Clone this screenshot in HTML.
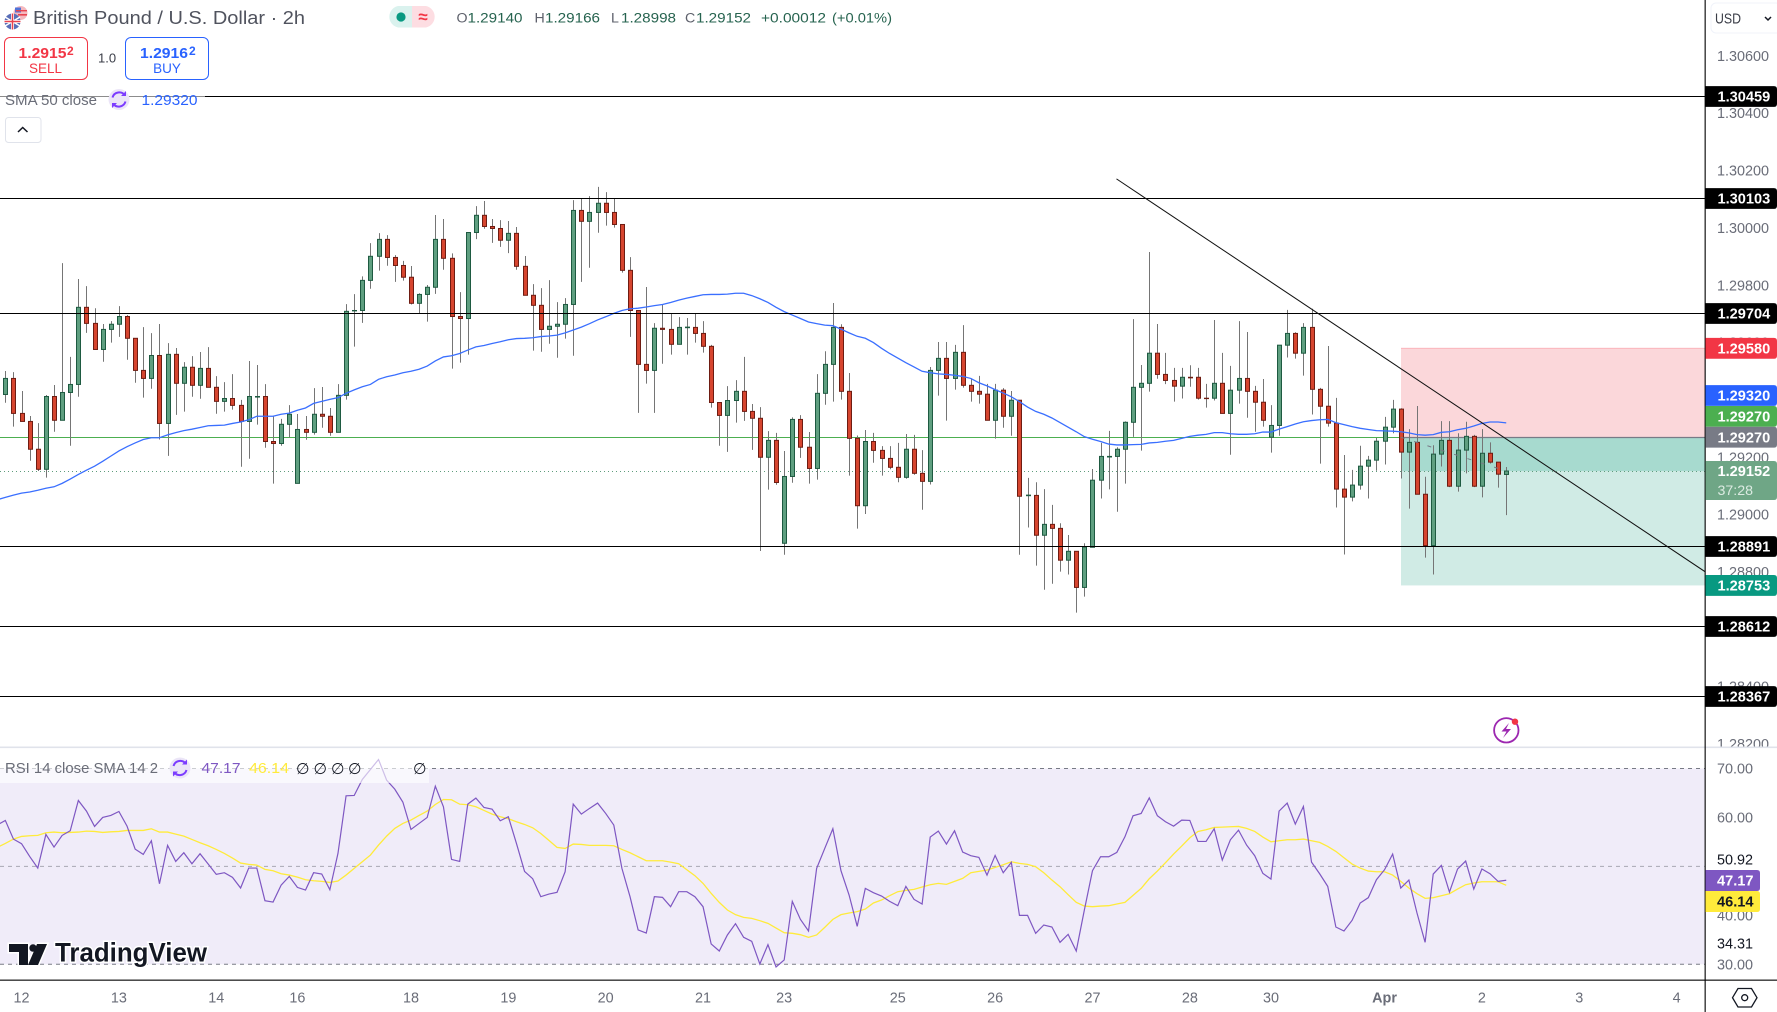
<!DOCTYPE html>
<html lang="en">
<head>
<meta charset="utf-8">
<title>British Pound / U.S. Dollar 2h chart</title>
<style>
html,body{margin:0;padding:0;background:#fff;width:1777px;height:1012px;overflow:hidden}
svg{display:block;font-family:"Liberation Sans",Arial,sans-serif}
.px{font-size:14.4px;fill:#6a6d78}
.tag{font-size:14.6px;font-weight:bold}
.tm{font-size:14.4px;fill:#6a6d78}
.ohlc{font-size:14.2px;fill:#26634f}
.ohl{font-size:14.2px;fill:#5d606b}
</style>
</head>
<body>
<svg id="chart" xmlns="http://www.w3.org/2000/svg" width="1777" height="1012" viewBox="0 0 1777 1012">
  <defs>
    <clipPath id="pricePaneClip"><rect x="0" y="0" width="1705" height="747"/></clipPath>
    <clipPath id="priceAxisClip"><rect x="1705" y="36" width="72" height="711"/></clipPath>
  </defs>
  <rect x="0" y="0" width="1777" height="1012" fill="#ffffff"/>
  <g id="priceAxis" clip-path="url(#priceAxisClip)"></g>
  <g id="pricePane" clip-path="url(#pricePaneClip)"></g>
  <rect x="0" y="746.5" width="1777" height="1.6" fill="#e0e3eb"/>
  <g id="rsiPane"></g>
  <g id="timeAxis"></g>
  <rect x="1704.6" y="0" width="1.1" height="1012" fill="#000"/>
  <rect x="0" y="979.6" width="1777" height="1.1" fill="#000"/>
  <g id="axisTags"></g>
  <g id="rsiAxis"></g>

  <!-- header -->
  <g>
    <circle cx="20.5" cy="13" r="7" fill="#f4b9bf"/>
    <rect x="15" y="7.5" width="6" height="5" fill="#4f73d9"/>
    <rect x="18" y="14" width="9" height="1.6" fill="#e8434f"/>
    <rect x="16" y="10" width="11" height="1.4" fill="#e8434f"/>
    <circle cx="12.5" cy="21.5" r="8" fill="#5a6fb8"/>
    <path d="M5 17 L20 26 M5 26 L20 17" stroke="#fff" stroke-width="1.6"/>
    <path d="M12.5 13.5 V29.5 M4.5 21.5 H20.5" stroke="#fff" stroke-width="3"/>
    <path d="M12.5 13.5 V29.5 M4.5 21.5 H20.5" stroke="#e8434f" stroke-width="1.5"/>
  </g>
  <text x="33" y="24" font-size="18.5" fill="#50535e" textLength="272" lengthAdjust="spacingAndGlyphs">British Pound / U.S. Dollar · 2h</text>
  <g>
    <path d="M412 6 H398 a11 11 0 0 0 0 21.5 H412 Z" fill="#daf2ee"/>
    <path d="M412 6 H426 a11 11 0 0 1 0 21.5 H412 Z" fill="#fddde2"/>
    <circle cx="401" cy="17" r="4.6" fill="#089981"/>
    <text x="423" y="22.5" font-size="17" font-weight="bold" fill="#f23645" text-anchor="middle">≈</text>
  </g>
  <g>
    <text class="ohl" x="456.5" y="22.7">O</text><text class="ohlc" x="467.5" y="22.7" textLength="55" lengthAdjust="spacingAndGlyphs">1.29140</text>
    <text class="ohl" x="534.5" y="22.7">H</text><text class="ohlc" x="545" y="22.7" textLength="55" lengthAdjust="spacingAndGlyphs">1.29166</text>
    <text class="ohl" x="611" y="22.7">L</text><text class="ohlc" x="621" y="22.7" textLength="55" lengthAdjust="spacingAndGlyphs">1.28998</text>
    <text class="ohl" x="685" y="22.7">C</text><text class="ohlc" x="696" y="22.7" textLength="55" lengthAdjust="spacingAndGlyphs">1.29152</text>
    <text class="ohlc" x="761" y="22.7" textLength="65" lengthAdjust="spacingAndGlyphs">+0.00012</text>
    <text class="ohlc" x="832" y="22.7" textLength="60" lengthAdjust="spacingAndGlyphs">(+0.01%)</text>
  </g>
  <g>
    <rect x="4.5" y="37.5" width="83" height="42" rx="5.5" fill="#fff" stroke="#f23645"/>
    <text x="18.5" y="58" font-size="15" font-weight="bold" fill="#f23645" textLength="48" lengthAdjust="spacingAndGlyphs">1.2915</text>
    <text x="67" y="55" font-size="12" font-weight="bold" fill="#f23645">2</text>
    <text x="45.5" y="73" font-size="13.5" fill="#f23645" text-anchor="middle">SELL</text>
  </g>
  <text x="98" y="62.5" font-size="13" fill="#3a3d47">1.0</text>
  <g>
    <rect x="125.5" y="37.5" width="83" height="42" rx="5.5" fill="#fff" stroke="#2962ff"/>
    <text x="140" y="58" font-size="15" font-weight="bold" fill="#2962ff" textLength="48" lengthAdjust="spacingAndGlyphs">1.2916</text>
    <text x="189" y="55" font-size="12" font-weight="bold" fill="#2962ff">2</text>
    <text x="167" y="73" font-size="13.5" fill="#2962ff" text-anchor="middle">BUY</text>
  </g>
  <g>
    <rect x="0" y="88" width="205" height="24" fill="#fff" fill-opacity="0.55"/>
    <text x="5" y="105" font-size="14.6" fill="#6a6d78" textLength="92" lengthAdjust="spacingAndGlyphs">SMA 50 close</text>
    <circle cx="119" cy="99.5" r="10.5" fill="#ebe5f7"/>
    <path d="M112.5 97.5 a7 7 0 0 1 12.5 -2 M125.5 101.5 a7 7 0 0 1 -12.5 2" fill="none" stroke="#7c3cff" stroke-width="2"/>
    <path d="M126 91 v5 h-5 Z M112 108 v-5 h5 Z" fill="#7c3cff"/>
    <text x="141.5" y="105" font-size="14.6" fill="#2962ff" textLength="56" lengthAdjust="spacingAndGlyphs">1.29320</text>
  </g>
  <g>
    <rect x="5.5" y="117.5" width="35.5" height="25" rx="3" fill="#fff" stroke="#e0e3eb"/>
    <path d="M18 132 L22.7 127.5 L27.5 132" fill="none" stroke="#131722" stroke-width="1.5"/>
  </g>
  <g>
    <rect x="1711" y="3" width="70" height="30" rx="5" fill="#fff" stroke="#f0f3fa"/>
    <text x="1715" y="23.5" font-size="14.4" fill="#3a3d47" textLength="26" lengthAdjust="spacingAndGlyphs">USD</text>
    <path d="M1765 17 L1768 20 L1771 17" fill="none" stroke="#131722" stroke-width="1.5"/>
  </g>
  <g>
    <circle cx="1506.3" cy="730.3" r="12.2" fill="#fff" stroke="#9c27b0" stroke-width="1.8"/>
    <path d="M1509 723 L1501.5 731.5 H1506.5 L1503 738 L1511 729 H1506 Z" fill="#9c27b0"/>
    <circle cx="1515" cy="721.7" r="3.2" fill="#f23645"/>
  </g>
  <g>
    <path d="M1738 988.5 H1751.5 L1757 997.7 L1751.5 1007 H1738 L1732.5 997.7 Z" fill="none" stroke="#131722" stroke-width="1.3"/>
    <circle cx="1744.7" cy="997.7" r="3" fill="none" stroke="#131722" stroke-width="1.3"/>
  </g>
  <g>
    <path d="M9 944 H28 V965 H19 V952 H9 Z M37 944 H47 L38 965 H28 Z" fill="#131722" stroke="#fff" stroke-width="3" paint-order="stroke"/>
    <circle cx="33" cy="948" r="3.7" fill="#131722"/>
    <text x="55" y="961.5" font-size="26.5" font-weight="bold" fill="#131722" stroke="#fff" stroke-width="3" paint-order="stroke" textLength="152" lengthAdjust="spacingAndGlyphs">TradingView</text>
  </g>
</svg>

<script>
// ---------- data ----------
const priceOpen = [1.29419,1.29475,1.29353,1.29325,1.29228,1.29158,1.29412,1.29329,1.29426,1.29454,1.29723,1.29667,1.29576,1.29646,1.29664,1.29691,1.29615,1.29503,1.29475,1.29555,1.29318,1.29559,1.29458,1.29514,1.29451,1.29510,1.29444,1.29395,1.29405,1.29381,1.29325,1.29410,1.29412,1.29255,1.29248,1.29315,1.29109,1.29297,1.29287,1.29350,1.29343,1.29287,1.29416,1.29711,1.29712,1.29817,1.29901,1.29960,1.29897,1.29869,1.29828,1.29737,1.29768,1.29793,1.29960,1.29894,1.29691,1.29684,1.29984,1.30044,1.30005,1.29998,1.29957,1.29981,1.29866,1.29765,1.29730,1.29646,1.29657,1.29664,1.29733,1.30061,1.30023,1.30054,1.30086,1.30054,1.30012,1.29852,1.29712,1.29524,1.29503,1.29650,1.29646,1.29594,1.29652,1.29653,1.29632,1.29587,1.29391,1.29346,1.29398,1.29430,1.29360,1.29336,1.29200,1.29259,1.28900,1.29133,1.29332,1.29235,1.29161,1.29423,1.29524,1.29653,1.29430,1.29266,1.29031,1.29255,1.29224,1.29196,1.29165,1.29130,1.29228,1.29144,1.29116,1.29503,1.29545,1.29475,1.29566,1.29451,1.29430,1.29420,1.29329,1.29434,1.29343,1.29399,1.29066,1.29067,1.28928,1.28966,1.28952,1.28841,1.28872,1.28746,1.28886,1.29120,1.29201,1.29203,1.29228,1.29322,1.29444,1.29458,1.29563,1.29489,1.29468,1.29448,1.29479,1.29479,1.29406,1.29406,1.29458,1.29353,1.29434,1.29475,1.29430,1.29392,1.29270,1.29311,1.29591,1.29632,1.29563,1.29653,1.29437,1.29378,1.29319,1.29089,1.29061,1.29103,1.29169,1.29190,1.29256,1.29305,1.29368,1.29218,1.29252,1.29071,1.28892,1.29211,1.29259,1.29099,1.29225,1.29273,1.29099,1.29214,1.29183,1.29140];
const priceHigh = [1.29501,1.29497,1.29431,1.29344,1.29319,1.29417,1.29452,1.29877,1.29550,1.29822,1.29797,1.29720,1.29665,1.29675,1.29727,1.29696,1.29615,1.29654,1.29633,1.29665,1.29598,1.29581,1.29532,1.29553,1.29567,1.29584,1.29483,1.29462,1.29490,1.29400,1.29536,1.29522,1.29455,1.29344,1.29334,1.29382,1.29351,1.29344,1.29441,1.29445,1.29372,1.29455,1.29734,1.29769,1.29831,1.29947,1.29982,1.29975,1.29905,1.29885,1.29867,1.29772,1.29801,1.30045,1.30031,1.29911,1.29776,1.29984,1.30076,1.30094,1.30031,1.30027,1.30024,1.30003,1.29902,1.29804,1.29790,1.29818,1.29741,1.29755,1.30097,1.30104,1.30111,1.30143,1.30125,1.30104,1.30012,1.29898,1.29712,1.29794,1.29668,1.29734,1.29701,1.29689,1.29686,1.29701,1.29675,1.29592,1.29391,1.29448,1.29469,1.29550,1.29386,1.29375,1.29291,1.29285,1.29222,1.29339,1.29347,1.29288,1.29490,1.29570,1.29738,1.29664,1.29494,1.29276,1.29295,1.29285,1.29239,1.29239,1.29250,1.29281,1.29278,1.29225,1.29515,1.29602,1.29602,1.29592,1.29661,1.29475,1.29484,1.29456,1.29456,1.29441,1.29431,1.29399,1.29128,1.29113,1.29089,1.29034,1.28970,1.28929,1.28872,1.28900,1.29159,1.29250,1.29292,1.29235,1.29325,1.29682,1.29522,1.29916,1.29665,1.29564,1.29512,1.29512,1.29521,1.29512,1.29456,1.29679,1.29564,1.29519,1.29675,1.29637,1.29449,1.29473,1.29382,1.29591,1.29714,1.29636,1.29668,1.29718,1.29442,1.29588,1.29407,1.29208,1.29156,1.29240,1.29205,1.29267,1.29341,1.29400,1.29371,1.29298,1.29379,1.29132,1.29242,1.29326,1.29326,1.29284,1.29324,1.29278,1.29298,1.29252,1.29183,1.29166];
const priceLow = [1.29390,1.29307,1.29325,1.29188,1.29152,1.29129,1.29289,1.29329,1.29240,1.29411,1.29634,1.29576,1.29533,1.29600,1.29620,1.29540,1.29460,1.29408,1.29439,1.29262,1.29205,1.29348,1.29359,1.29411,1.29404,1.29444,1.29352,1.29359,1.29366,1.29167,1.29195,1.29314,1.29233,1.29108,1.29240,1.29269,1.29109,1.29261,1.29279,1.29303,1.29275,1.29287,1.29401,1.29586,1.29669,1.29788,1.29851,1.29868,1.29812,1.29816,1.29733,1.29702,1.29673,1.29770,1.29854,1.29509,1.29530,1.29558,1.29961,1.29997,1.29948,1.29934,1.29912,1.29854,1.29765,1.29572,1.29568,1.29596,1.29547,1.29614,1.29554,1.29812,1.29861,1.29983,1.30008,1.30001,1.29844,1.29620,1.29355,1.29457,1.29355,1.29526,1.29558,1.29594,1.29558,1.29600,1.29565,1.29373,1.29240,1.29219,1.29321,1.29327,1.29226,1.28873,1.29087,1.29104,1.28860,1.29111,1.29198,1.29108,1.29122,1.29383,1.29394,1.29401,1.29136,1.28951,1.29002,1.29181,1.29136,1.29158,1.29113,1.29125,1.29139,1.29017,1.29105,1.29415,1.29328,1.29436,1.29443,1.29394,1.29387,1.29329,1.29265,1.29303,1.29275,1.28860,1.28955,1.28822,1.28738,1.28759,1.28801,1.28791,1.28658,1.28714,1.28886,1.29056,1.29088,1.29010,1.29108,1.29271,1.29223,1.29429,1.29474,1.29455,1.29394,1.29405,1.29446,1.29401,1.29373,1.29398,1.29353,1.29209,1.29387,1.29338,1.29289,1.29307,1.29216,1.29275,1.29548,1.29544,1.29485,1.29349,1.29178,1.29307,1.29025,1.28861,1.29046,1.29087,1.29056,1.29153,1.29175,1.29284,1.29126,1.29021,1.29071,1.28850,1.28791,1.29168,1.29096,1.29080,1.29144,1.29096,1.29060,1.29178,1.29094,1.28998];
const priceClose = [1.29475,1.29353,1.29325,1.29228,1.29158,1.29412,1.29329,1.29426,1.29454,1.29723,1.29667,1.29576,1.29646,1.29664,1.29691,1.29615,1.29503,1.29475,1.29555,1.29318,1.29559,1.29458,1.29514,1.29451,1.29510,1.29444,1.29395,1.29405,1.29381,1.29325,1.29412,1.29412,1.29255,1.29248,1.29315,1.29350,1.29297,1.29287,1.29350,1.29343,1.29287,1.29416,1.29709,1.29712,1.29817,1.29901,1.29960,1.29897,1.29869,1.29828,1.29737,1.29768,1.29793,1.29960,1.29894,1.29691,1.29684,1.29984,1.30044,1.30005,1.29998,1.29957,1.29981,1.29866,1.29765,1.29730,1.29646,1.29657,1.29664,1.29733,1.30061,1.30023,1.30054,1.30086,1.30054,1.30012,1.29852,1.29712,1.29524,1.29503,1.29650,1.29646,1.29594,1.29653,1.29654,1.29632,1.29587,1.29391,1.29346,1.29398,1.29430,1.29360,1.29336,1.29200,1.29259,1.29112,1.29133,1.29332,1.29235,1.29161,1.29423,1.29524,1.29653,1.29430,1.29266,1.29031,1.29255,1.29224,1.29196,1.29165,1.29130,1.29228,1.29144,1.29116,1.29503,1.29545,1.29475,1.29566,1.29451,1.29430,1.29420,1.29329,1.29434,1.29343,1.29399,1.29064,1.29068,1.28928,1.28966,1.28952,1.28841,1.28872,1.28746,1.28887,1.29120,1.29203,1.29203,1.29228,1.29322,1.29444,1.29458,1.29563,1.29489,1.29468,1.29448,1.29479,1.29477,1.29406,1.29405,1.29458,1.29353,1.29434,1.29475,1.29430,1.29392,1.29329,1.29311,1.29591,1.29632,1.29563,1.29653,1.29437,1.29378,1.29319,1.29089,1.29061,1.29103,1.29169,1.29190,1.29256,1.29305,1.29368,1.29218,1.29252,1.29071,1.28892,1.29211,1.29259,1.29099,1.29225,1.29273,1.29099,1.29214,1.29183,1.29141,1.29152];
const sma50 = [1.29060,1.29068,1.29075,1.29079,1.29085,1.29092,1.29097,1.29109,1.29124,1.29140,1.29155,1.29169,1.29186,1.29204,1.29222,1.29237,1.29250,1.29262,1.29268,1.29268,1.29278,1.29286,1.29293,1.29298,1.29304,1.29310,1.29311,1.29312,1.29318,1.29323,1.29331,1.29343,1.29343,1.29343,1.29350,1.29354,1.29364,1.29372,1.29388,1.29395,1.29402,1.29408,1.29423,1.29435,1.29446,1.29454,1.29472,1.29481,1.29487,1.29495,1.29500,1.29507,1.29518,1.29536,1.29550,1.29554,1.29562,1.29574,1.29585,1.29590,1.29597,1.29603,1.29610,1.29614,1.29615,1.29617,1.29621,1.29623,1.29626,1.29634,1.29644,1.29654,1.29666,1.29679,1.29690,1.29702,1.29712,1.29718,1.29720,1.29724,1.29729,1.29733,1.29740,1.29748,1.29755,1.29761,1.29767,1.29768,1.29768,1.29769,1.29772,1.29772,1.29764,1.29753,1.29740,1.29723,1.29708,1.29696,1.29684,1.29672,1.29666,1.29661,1.29659,1.29647,1.29634,1.29622,1.29615,1.29600,1.29580,1.29562,1.29546,1.29530,1.29515,1.29500,1.29495,1.29491,1.29489,1.29486,1.29482,1.29475,1.29460,1.29449,1.29436,1.29424,1.29411,1.29394,1.29375,1.29360,1.29350,1.29337,1.29321,1.29305,1.29289,1.29272,1.29263,1.29255,1.29246,1.29243,1.29243,1.29244,1.29245,1.29250,1.29252,1.29256,1.29259,1.29266,1.29273,1.29277,1.29280,1.29286,1.29286,1.29282,1.29280,1.29280,1.29282,1.29288,1.29288,1.29298,1.29307,1.29316,1.29324,1.29328,1.29331,1.29332,1.29321,1.29314,1.29307,1.29301,1.29297,1.29293,1.29292,1.29291,1.29289,1.29285,1.29279,1.29277,1.29279,1.29287,1.29289,1.29296,1.29301,1.29309,1.29318,1.29323,1.29323,1.29320];
const rsiValues = [59.39,55.58,54.63,52.04,49.66,56.53,53.95,56.33,57.28,63.47,61.29,58.16,60.0,60.41,61.22,58.23,53.54,52.45,55.24,46.46,54.29,51.02,52.79,50.54,52.59,50.48,48.37,48.71,47.76,45.58,49.66,49.66,43.0,42.72,46.19,47.96,45.71,45.17,48.71,48.44,45.24,52.65,64.42,64.49,67.76,69.8,71.84,67.62,65.78,63.13,57.55,58.78,60.0,66.39,62.18,51.43,51.02,62.72,63.95,62.04,61.7,59.32,60.14,54.69,48.98,47.48,43.81,44.35,44.69,48.91,62.72,60.68,61.84,62.93,60.82,58.44,49.59,43.81,37.01,36.39,43.81,43.67,41.77,44.83,44.83,43.81,41.77,34.15,32.72,35.99,38.3,35.51,34.69,30.07,34.01,29.46,30.88,42.86,39.18,36.8,49.59,53.67,57.69,49.12,44.15,37.76,45.51,44.63,43.95,42.86,41.97,45.92,43.27,42.31,55.99,57.21,54.56,57.28,52.93,52.18,51.84,48.23,52.24,48.71,50.82,40.0,40.0,36.33,38.03,37.62,34.49,36.12,32.72,41.09,49.12,51.97,51.97,52.86,56.05,60.34,60.82,64.01,60.34,59.12,58.23,59.46,59.39,55.1,55.1,57.69,51.29,55.44,57.41,54.35,52.18,48.57,47.41,61.29,62.93,58.64,62.24,50.88,48.5,45.92,37.62,36.8,38.98,42.52,43.61,47.28,49.32,52.52,45.58,47.21,40.48,34.49,48.44,50.2,44.76,49.46,51.09,45.37,49.46,48.5,46.94,47.17];
const rsiSmaValues = [54.69,55.58,56.12,56.26,56.33,56.87,57.01,56.87,56.94,57.01,57.21,57.14,56.94,57.07,57.14,57.35,57.35,57.35,57.69,57.01,57.01,56.6,56.19,55.51,54.83,54.22,53.47,52.65,51.7,50.68,50.41,50.27,49.39,49.12,48.5,48.23,47.82,47.28,47.07,46.94,46.73,47.01,48.23,49.59,50.95,52.31,54.35,56.19,57.76,58.78,59.46,60.41,61.29,62.65,63.67,63.61,62.72,62.59,62.18,61.43,60.68,60.14,59.73,59.12,58.57,57.89,56.73,55.31,53.88,53.67,54.56,54.49,54.29,54.29,54.29,54.22,53.47,52.79,51.97,51.16,51.16,51.16,50.88,50.54,49.32,48.1,46.53,44.49,42.65,41.09,40.14,39.59,39.39,38.91,38.37,37.41,36.46,36.33,36.05,35.51,35.99,37.55,39.18,40.14,40.48,40.75,41.29,42.52,43.13,44.01,44.83,45.1,45.31,45.78,46.26,46.53,46.33,46.94,47.55,48.71,48.98,49.25,49.8,50.34,50.95,50.61,50.41,49.93,48.71,47.21,45.85,44.22,42.65,41.9,41.77,41.9,41.97,42.31,42.65,44.08,45.51,47.48,49.05,50.75,52.52,54.15,55.85,57.14,57.48,57.96,58.03,58.1,58.16,57.76,57.14,55.99,55.03,55.24,55.44,55.44,55.58,55.24,54.9,54.08,53.06,51.77,50.48,49.66,49.05,48.91,48.91,48.23,46.94,45.58,44.42,43.47,43.61,44.01,44.42,45.37,46.26,46.6,46.87,46.87,46.87,46.14];
const smaOffscreenStart = 1.29052;
const rsiOffscreenStart = 58.44;
const rsiSmaOffscreenStart = 53.88;
const levelPrices = [1.30459,1.30103,1.29704,1.28891,1.28612,1.28367];
const priceTickLabels = ["1.30600","1.30400","1.30200","1.30000","1.29800","1.29600","1.29400","1.29200","1.29000","1.28800","1.28600","1.28400","1.28200"];
const rsiTickLabels = ["70.00","60.00","40.00","30.00"];
const rsiValueLabels = ["50.92","34.31"];
const dayTickBars = [2,14,26,36,50,62,74,86,96,110,122,134,146,156,170,182,194,206];
const dayTickLabels = ["12","13","14","16","18","19","20","21","23","25","26","27","28","30","Apr","2","3","4"];
const trendBars = [136.96,209.5];
const trendPrices = [1.30171,1.28801];
const positionEntry = 1.2927;
const positionStop = 1.2958;
const positionTarget = 1.28753;
const positionStartBar = 172;
const lastPrice = 1.29152;

// ---------- axis functions ----------
const NS = 'http://www.w3.org/2000/svg';
function xOf(i){ return 5.33 + 8.113 * i; }
function yOf(p){ return (1.30795 - p) * 28669; }
function snapY(p){ return Math.round(yOf(p)) + 0.5; }
function rsiY(v){ return 768.5 + (70 - v) * 4.895; }
function mk(tag, parent, attrs, txt){
  const el = document.createElementNS(NS, tag);
  for (const k in attrs) el.setAttribute(k, attrs[k]);
  if (txt !== undefined) el.textContent = txt;
  parent.appendChild(el);
  return el;
}
function linePoints(first, values, yFn){
  const pts = [xOf(-1) + ',' + yFn(first)];
  values.forEach(function(v, i){ pts.push(xOf(i) + ',' + yFn(v)); });
  return pts.join(' ');
}
const pane = document.getElementById('pricePane');
const axisG = document.getElementById('priceAxis');
const tagsG = document.getElementById('axisTags');
const rsiG = document.getElementById('rsiPane');
const rsiAxisG = document.getElementById('rsiAxis');
const timeG = document.getElementById('timeAxis');
const RIGHT = 1705;

// ---------- price axis ticks ----------
priceTickLabels.forEach(function(lbl){
  const t = mk('text', axisG, {class:'px', x:1717, y:yOf(parseFloat(lbl))+5}, lbl);
  
  
});

// ---------- position tool ----------
const xStart = Math.round(xOf(positionStartBar));
const stopBox = mk('rect', pane, {x:xStart, y:yOf(positionStop), width:RIGHT-xStart, height:yOf(positionEntry)-yOf(positionStop), fill:'#fbd7da'});


const stopEdge = mk('rect', pane, {x:xStart, y:yOf(positionStop)-0.5, width:RIGHT-xStart, height:1, fill:'#fbb4bb'});


const targetBox = mk('rect', pane, {x:xStart, y:yOf(positionEntry), width:RIGHT-xStart, height:yOf(positionTarget)-yOf(positionEntry), fill:'#d0ebe5'});


const pnlBox = mk('rect', pane, {x:xStart, y:yOf(positionEntry), width:RIGHT-xStart, height:yOf(lastPrice)-yOf(positionEntry), fill:'#a7dacf'});



// ---------- current price lines ----------
const greenLine = mk('line', pane, {x1:0, x2:xStart, y1:snapY(positionEntry), y2:snapY(positionEntry), stroke:'#4caf50', 'stroke-width':1});


const entryLine = mk('line', pane, {x1:xStart, x2:RIGHT, y1:snapY(positionEntry), y2:snapY(positionEntry), stroke:'#787b86', 'stroke-width':1.2});


const dotted = mk('line', pane, {x1:0, x2:RIGHT, y1:snapY(lastPrice), y2:snapY(lastPrice), stroke:'#5f9c7c', 'stroke-width':1, 'stroke-dasharray':'1 3'});



// ---------- candles ----------
priceOpen.forEach(function(o, i){
  const c = priceClose[i];
  const up = c >= o;
  const cx = Math.round(xOf(i)) + 0.5;
  const g = mk('g', pane, {});
  
  
  const wick = mk('line', g, {x1:cx, x2:cx, y1:yOf(priceHigh[i]), y2:yOf(priceLow[i]), stroke:'#757575', 'stroke-width':1});
  
  
  const top = yOf(Math.max(o, c));
  const bot = yOf(Math.min(o, c));
  const body = mk('rect', g, {x:cx-2, y:top, width:4, height:Math.max(bot-top, 0.4), fill:up?'#5f9f80':'#d6452f', stroke:up?'#1e5a41':'#6e1c12', 'stroke-width':1});
  
  
});

// ---------- position connector ----------
const connector = mk('line', pane, {x1:xOf(172), x2:xOf(185), y1:yOf(positionEntry), y2:yOf(lastPrice), stroke:'#787b86', 'stroke-width':1, 'stroke-dasharray':'4 10'});



// ---------- SMA 50 ----------
const smaLine = mk('polyline', pane, {points:linePoints(smaOffscreenStart, sma50, yOf), fill:'none', stroke:'#3a6fff', 'stroke-width':1.3});



// ---------- horizontal levels ----------
levelPrices.forEach(function(p){
  const l = mk('line', pane, {x1:0, x2:RIGHT, y1:snapY(p), y2:snapY(p), stroke:'#000', 'stroke-width':1.1});
  
  
});

// ---------- trend line ----------
const trend = mk('line', pane, {x1:xOf(trendBars[0]), y1:yOf(trendPrices[0]), x2:xOf(trendBars[1]), y2:yOf(trendPrices[1]), stroke:'#111', 'stroke-width':1});



// ---------- axis tags ----------
function tagPath(y, h, w){
  const x = RIGHT + 0.5;
  return 'M'+x+' '+y+' H'+(x+w-3)+' Q'+(x+w)+' '+y+' '+(x+w)+' '+(y+3)+' V'+(y+h-3)+' Q'+(x+w)+' '+(y+h)+' '+(x+w-3)+' '+(y+h)+' H'+x+' Z';
}
function drawTag(label, fill, ink, cy){
  const g = mk('g', tagsG, {});
  
  
  mk('path', g, {d:tagPath(cy-10.4, 20.8, 71.5), fill:fill});
  mk('text', g, {class:'tag', x:1717.5, y:cy+5.2, fill:ink}, label);
}
levelPrices.forEach(function(p){
  drawTag(p.toFixed(5), '#000', '#fff', snapY(p));
});
drawTag(positionStop.toFixed(5), '#f23645', '#fff', yOf(positionStop));
drawTag('1.29320', '#2962ff', '#fff', yOf(positionEntry) - 41.7);
drawTag('1.29270', '#4caf50', '#fff', yOf(positionEntry) - 20.8);
drawTag(positionEntry.toFixed(5), '#787b86', '#fff', yOf(positionEntry));
drawTag(positionTarget.toFixed(5), '#089981', '#fff', yOf(positionTarget));
const lastTag = mk('g', tagsG, {});


mk('path', lastTag, {d:tagPath(yOf(lastPrice)-10, 39, 71.5), fill:'#6fa686'});
mk('text', lastTag, {class:'tag', x:1717.5, y:yOf(lastPrice)+5.2, fill:'#fff'}, lastPrice.toFixed(5));
mk('text', lastTag, {x:1717.5, y:yOf(lastPrice)+24, fill:'#dcebe2', 'font-size':14.2}, '37:28');

// ---------- RSI pane ----------
const band = mk('rect', rsiG, {x:0, y:rsiY(70), width:RIGHT, height:rsiY(30)-rsiY(70), fill:'#f0ecf9'});


[70,30].forEach(function(v){
  const l = mk('line', rsiG, {x1:0, x2:RIGHT, y1:rsiY(v), y2:rsiY(v), stroke:'#787b86', 'stroke-width':1, 'stroke-dasharray':'4 4'});
  
  
});
const rsiMid = mk('line', rsiG, {x1:0, x2:RIGHT, y1:rsiY(50), y2:rsiY(50), stroke:'#a8a8b4', 'stroke-width':1, 'stroke-dasharray':'4 4'});


const rsiClipG = mk('g', rsiG, {});


const rsiSmaLine = mk('polyline', rsiClipG, {points:linePoints(rsiSmaOffscreenStart, rsiSmaValues, rsiY), fill:'none', stroke:'#ffeb3b', 'stroke-width':1.3});


const rsiLine = mk('polyline', rsiClipG, {points:linePoints(rsiOffscreenStart, rsiValues, rsiY), fill:'none', stroke:'#7e57c2', 'stroke-width':1.2});



// RSI legend
const lg = mk('g', rsiG, {});


mk('rect', lg, {x:0, y:756, width:429, height:27, fill:'#fff', 'fill-opacity':0.62});
mk('text', lg, {x:5, y:773, 'font-size':14.4, fill:'#6a6d78', textLength:153, lengthAdjust:'spacingAndGlyphs'}, 'RSI 14 close SMA 14 2');
mk('circle', lg, {cx:180, cy:768, r:10.5, fill:'#ebe5f7'});
mk('path', lg, {d:'M173.5 766 a7 7 0 0 1 12.5 -2 M186.5 770 a7 7 0 0 1 -12.5 2', fill:'none', stroke:'#7c3cff', 'stroke-width':2});
mk('path', lg, {d:'M187 759.5 v5 h-5 Z M173 776.5 v-5 h5 Z', fill:'#7c3cff'});
mk('text', lg, {x:201.5, y:773, 'font-size':14.4, fill:'#7e57c2', textLength:39, lengthAdjust:'spacingAndGlyphs'}, '47.17');
mk('text', lg, {x:249, y:773, 'font-size':14.4, fill:'#ffeb3b', textLength:40, lengthAdjust:'spacingAndGlyphs'}, '46.14');
['∅','∅','∅','∅','∅'].forEach(function(s, i){
  mk('text', lg, {x:[296,313.5,331,348,413][i], y:774, 'font-size':15.5, fill:'#131722'}, s);
});

// RSI axis
rsiTickLabels.forEach(function(lbl){
  const t = mk('text', rsiAxisG, {class:'px', x:1717, y:rsiY(parseFloat(lbl))+5}, lbl);
  
  
});
rsiValueLabels.forEach(function(lbl){
  const t = mk('text', rsiAxisG, {x:1717, y:(lbl === '50.92' ? 859.7 : 943.7)+5, 'font-size':14.4, fill:'#131722'}, lbl);
  
  
});
const rsiTag = mk('g', rsiAxisG, {});


const rsiLast = rsiValues[rsiValues.length-1];
mk('path', rsiTag, {d:tagPath(870, 21, 54.5), fill:'#7e57c2'});
mk('text', rsiTag, {class:'tag', x:1717, y:885.5, fill:'#fff'}, rsiLast.toFixed(2));
const smaTag = mk('g', rsiAxisG, {});


const smaLast = rsiSmaValues[rsiSmaValues.length-1];
mk('path', smaTag, {d:tagPath(891, 21, 54.5), fill:'#ffeb3b'});
mk('text', smaTag, {class:'tag', x:1717, y:906.5, fill:'#131722'}, smaLast.toFixed(2));

// ---------- time axis ----------
dayTickBars.forEach(function(b, i){
  const isMonth = dayTickLabels[i] === 'Apr';
  const t = mk('text', timeG, {class:'tm', x:xOf(b), y:1002.5, 'text-anchor':'middle', 'font-weight':isMonth?'bold':'normal'}, dayTickLabels[i]);
  
  
});
</script>
</body>
</html>
